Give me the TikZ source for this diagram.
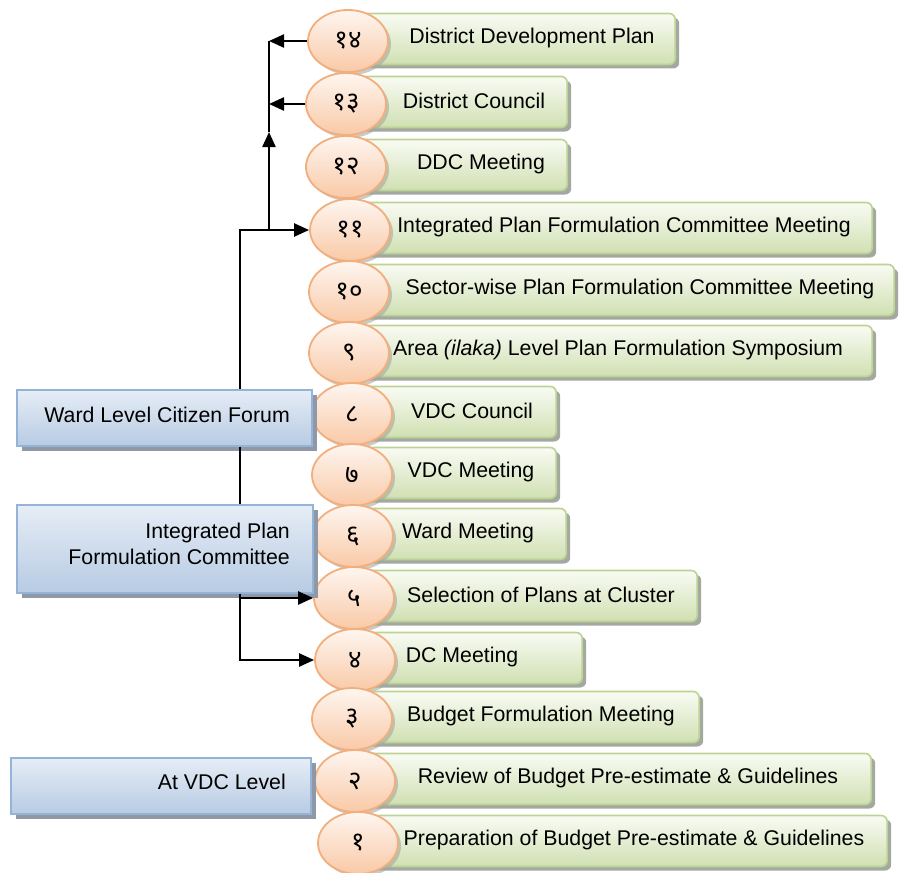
\documentclass[tikz,border=0pt]{standalone}
\usepackage{fontspec}
\setmainfont{Liberation Sans}
\newfontfamily\deva[Script=Devanagari]{Noto Sans}
\usetikzlibrary{shapes.geometric,shadows,arrows.meta}
\definecolor{gtop}{HTML}{F9FBF4}
\definecolor{gbot}{HTML}{D0E0B2}
\definecolor{gedge}{HTML}{BDD393}
\definecolor{otop}{HTML}{FEF6F0}
\definecolor{obot}{HTML}{F9C9A7}
\definecolor{oedge}{HTML}{F2AE7C}
\definecolor{btop}{HTML}{E6EDF6}
\definecolor{bbot}{HTML}{B7CBE3}
\definecolor{bedge}{HTML}{95B3D7}
\definecolor{shgrey}{HTML}{A3A8A0}
\definecolor{bshgrey}{HTML}{8E98A6}
\tikzset{
  greenbox/.style={draw=gedge, line width=1.6pt, rounded corners=6pt,
    top color=gtop, bottom color=gbot, minimum height=51pt, inner sep=0pt,
    drop shadow={shadow xshift=4pt, shadow yshift=-4pt, fill=shgrey, opacity=1}},
  circ/.style={ellipse, draw=oedge, line width=1.8pt, top color=otop, bottom color=obot,
    minimum width=80pt, minimum height=62pt, inner sep=0pt,
    font=\deva\bfseries\fontsize{26}{28}\selectfont,
    drop shadow={shadow xshift=3pt, shadow yshift=-3pt, fill=shgrey, opacity=0.6}},
  bluebox/.style={draw=bedge, line width=1.6pt, top color=btop, bottom color=bbot,
    inner sep=0pt, anchor=north west,
    drop shadow={shadow xshift=5pt, shadow yshift=-5pt, fill=bshgrey, opacity=1}},
  lbl/.style={inner sep=0pt},
  link/.style={line width=2.3pt, black},
  conn/.style={link, -{Triangle[length=15pt, width=13pt]}}
}
\begin{document}
\begin{tikzpicture}[x=1pt, y=-1pt, font=\fontsize{21.3}{26}\selectfont]
\useasboundingbox (0,0) rectangle (904,872);
\foreach \n/\d/\y/\cx/\r/\tx/\t in {
 14/१४/40/348/676/532/District Development Plan,
 13/१३/103/346/568/474/District Council,
 12/१२/166/346/568/481/DDC Meeting,
 11/११/229/350/873/624/Integrated Plan Formulation Committee Meeting,
 10/१०/291/349/895/640/Sector-wise Plan Formulation Committee Meeting,
 9/९/352/349/873/618/Area \textit{(ilaka)} Level Plan Formulation Symposium,
 8/८/413/352/557/472/VDC Council,
 7/७/474/352/557/471/VDC Meeting,
 6/६/535/353/567/468/Ward Meeting,
 5/५/597/354/698/541/Selection of Plans at Cluster,
 4/४/659/355/583/462/DC Meeting,
 3/३/718/352/700/541/Budget Formulation Meeting,
 2/२/780/355/872/628/Review of Budget Pre-estimate \& Guidelines,
 1/१/842/358/888/634/Preparation of Budget Pre-estimate \& Guidelines}{
  \node[greenbox, minimum width={\r-\cx+20}, anchor=east] (b\n) at (\r,\y-1) {};
  \node[lbl] (t\n) at (\tx,\y-2) {\t};
  \node[circ] (c\n) at (\cx,\y+1) {\d};
}
% left blue boxes
\node[bluebox, minimum width=295pt, minimum height=56pt] (ward) at (16,389) {};
\node[lbl, anchor=east] (wardt) at (290,415) {Ward Level Citizen Forum};
\node[bluebox, minimum width=296pt, minimum height=88pt] (ipfc) at (16,504) {};
\node[lbl, anchor=east, align=right] (ipfct) at (290,544) {Integrated Plan\\[0pt]Formulation Committee};
\node[bluebox, minimum width=300pt, minimum height=56pt] (vdc) at (10,757) {};
\node[lbl, anchor=east] (vdct) at (286,782) {At VDC Level};
% connectors
\coordinate (xl) at (240,0);
\coordinate (xr) at (269,0);
\coordinate (mid) at (269,132);
\draw[conn] (ward.north -| xl) |- (c11.west);
\draw[link] (ward.south -| xl) -- (ipfc.north -| xl);
\draw[conn] (ipfc.south -| xl) |- (c4.west);
\draw[conn] (xl |- c5.west) -- (c5.west);
\draw[conn] (xr |- c11.west) -- (mid);
\draw[link] (mid) -- (xr |- c14.west);
\draw[conn] (c13.west) -- (xr |- c13.west);
\draw[conn] (c14.west) -- (xr |- c14.west);
\end{tikzpicture}
\end{document}
